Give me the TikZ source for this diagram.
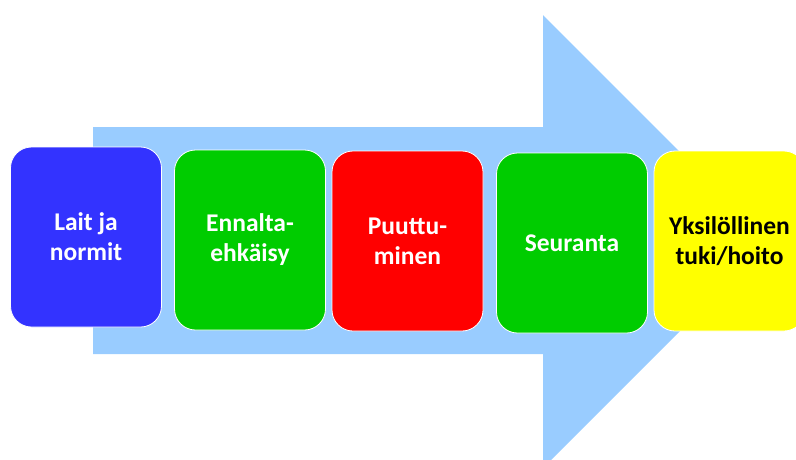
\documentclass[tikz,border=0pt]{standalone}
\usepackage{fontspec}
\setmainfont{Carlito}
\definecolor{arrowblue}{HTML}{99CCFF}
\definecolor{boxblue}{HTML}{3333FF}
\definecolor{boxgreen}{HTML}{00CC00}
\definecolor{boxred}{HTML}{FF0000}
\definecolor{boxyellow}{HTML}{FFFF00}
\begin{document}
\begin{tikzpicture}[x=1pt,y=-1pt,
  stage/.style={draw=white, line width=0.8pt, rounded corners=21pt, minimum width=151pt, minimum height=180pt, align=center, font=\fontsize{25.5}{30}\selectfont\bfseries, text=white, inner sep=0pt}]
\useasboundingbox (0,0) rectangle (796,459);
\begin{scope}
\clip (0,0) rectangle (796,459);
\fill[arrowblue] (93,127) -- (543,127) -- (543,15) -- (769.5,241.5) -- (543,468) -- (543,354) -- (93,354) -- cycle;
\node[stage, fill=boxblue] (s1) at (86,237) {Lait ja\\normit};
\node[stage, fill=boxgreen] (s2) at (250,240) {Ennalta-\\ehkäisy};
\node[stage, fill=boxred] (s3) at (407.5,241) {Puuttu-\\minen};
\node[stage, fill=boxgreen] (s4) at (572,243) {Seuranta};
\node[stage, fill=boxyellow, text=black] (s5) at (729.5,241) {Yksilöllinen\\tuki/hoito};
\end{scope}
\end{tikzpicture}
\end{document}
